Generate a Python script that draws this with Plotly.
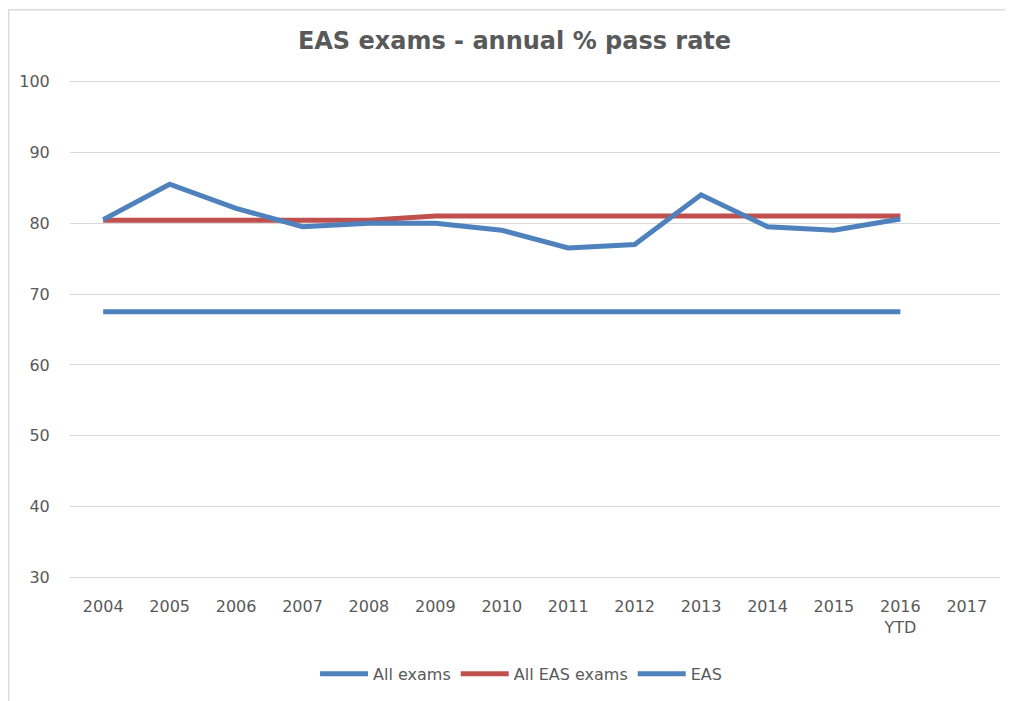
import plotly.graph_objects as go

years = ["2004", "2005", "2006", "2007", "2008", "2009", "2010",
         "2011", "2012", "2013", "2014", "2015", "2016<br>YTD", "2017"]
all_exams = [67.5] * 13 + [None]
all_eas_exams = [80.4, 80.4, 80.4, 80.4, 80.4, 81.0, 81.0,
                 81.0, 81.0, 81.0, 81.0, 81.0, 81.0, None]
eas = [80.5, 85.5, 82.1, 79.5, 80.0, 80.0, 79.0,
       76.5, 77.0, 84.0, 79.5, 79.0, 80.6, None]

BLUE = "#4F81BD"
RED = "#C0504D"
TEXT = "#595959"

fig = go.Figure()
fig.add_trace(go.Scatter(x=years, y=all_exams, name="All exams", mode="lines",
                         line=dict(color=BLUE, width=5)))
fig.add_trace(go.Scatter(x=years, y=all_eas_exams, name="All EAS exams", mode="lines",
                         line=dict(color=RED, width=5)))
fig.add_trace(go.Scatter(x=years, y=eas, name="EAS", mode="lines",
                         line=dict(color=BLUE, width=5)))

# page body has an 8px margin, so margins are shifted to match
fig.update_layout(
    width=1013, height=701,
    title=dict(text="<b>EAS exams - annual % pass rate</b>", x=0.5, xanchor="center",
               y=0.953, yanchor="middle",
               font=dict(family="DejaVu Sans", size=24, color=TEXT)),
    font=dict(family="DejaVu Sans", size=16, color=TEXT),
    plot_bgcolor="white",
    paper_bgcolor="white",
    margin=dict(l=62, r=21, t=72, b=130),
    showlegend=True,
    legend=dict(orientation="h", x=0.485, xanchor="center", y=-0.19, yanchor="middle",
                font=dict(size=16, color=TEXT), itemwidth=48, tracegroupgap=0),
    xaxis=dict(type="category", range=[-0.5, 13.5], showgrid=False, zeroline=False,
               showline=False, ticks="outside", ticklen=13, tickcolor="rgba(0,0,0,0)",
               tickfont=dict(size=16, color=TEXT)),
    yaxis=dict(range=[29.8, 100.2], dtick=10, tick0=30, showgrid=True,
               gridcolor="#D9D9D9", gridwidth=1, zeroline=False, showline=False,
               ticks="outside", ticklen=16, tickcolor="rgba(0,0,0,0)",
               tickfont=dict(size=16, color=TEXT)),
    # outer chart border
    shapes=[dict(type="rect", xref="paper", yref="paper",
                 x0=-0.066, x1=1.05, y0=-0.4, y1=1.141,
                 line=dict(color="#D9D9D9", width=1.5), layer="below")],
)

fig.write_html("out.html")
